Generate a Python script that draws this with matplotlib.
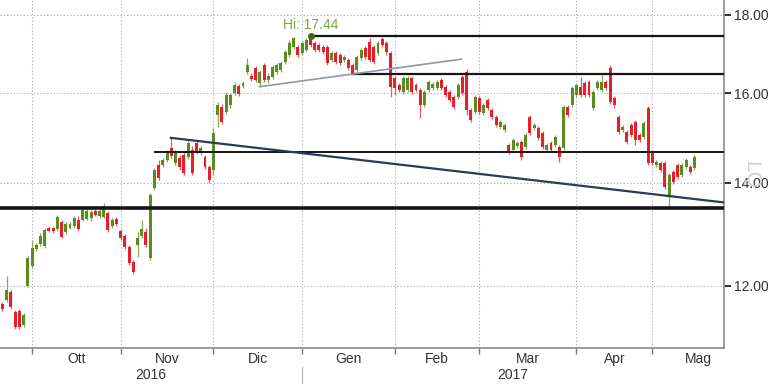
import numpy as np
import pandas as pd
import matplotlib
matplotlib.use("Agg")
import matplotlib.pyplot as plt
from matplotlib.ticker import FixedLocator, NullLocator, NullFormatter, FuncFormatter
import matplotlib.transforms as mtransforms

plt.rcParams['font.family'] = ['Liberation Sans', 'DejaVu Sans']

# trading calendar (Borsa Italiana)
holidays = ['2016-12-26', '2017-04-14', '2017-04-17', '2017-05-01']
month_names = {10: 'Ott', 11: 'Nov', 12: 'Dic', 1: 'Gen', 2: 'Feb', 3: 'Mar', 4: 'Apr', 5: 'Mag'}

# daily OHLC, 22 Sep 2016 .. 16 May 2017
opens = [
    11.68, 11.75, 11.89, 11.54, 11.55, 11.31, 11.99, 12.36, 12.68, 12.77,
    12.74, 13.08, 13.08, 13.06, 13.20, 13.00, 13.08, 13.12, 13.24, 13.24,
    13.26, 13.28, 13.42, 13.32, 13.30, 13.38, 13.12, 13.26, 13.02, 12.93,
    12.72, 12.43, 12.75, 12.93, 13.00, 12.51, 13.89, 14.38, 14.38, 14.48,
    14.74, 14.42, 14.52, 14.59, 14.55, 14.70, 14.85, 14.63, 14.55, 14.33,
    14.27, 15.50, 15.68, 15.56, 15.73, 16.01, 16.18, 16.18, 16.52, 16.42,
    16.62, 16.25, 16.69, 16.32, 16.40, 16.52, 16.57, 16.77, 16.94, 17.15,
    17.15, 16.99, 17.07, 17.38, 17.25, 17.20, 17.15, 17.15, 16.82, 16.99,
    16.94, 16.82, 16.82, 16.69, 16.57, 16.87, 17.12, 17.28, 17.15, 16.99,
    17.35, 17.25, 16.99, 16.37, 16.20, 16.03, 16.08, 16.37, 16.20, 16.08,
    15.73, 16.08, 16.13, 16.13, 16.32, 16.15, 16.03, 15.91, 15.91, 16.39,
    16.52, 15.61, 15.56, 15.89, 15.54, 15.84, 15.61, 15.45, 15.22, 15.15,
    14.81, 14.70, 14.79, 14.88, 14.77, 15.45, 15.20, 15.20, 15.08, 14.70,
    14.85, 14.81, 14.77, 14.74, 15.68, 15.73, 15.96, 16.15, 16.25, 16.27,
    15.66, 16.13, 16.08, 16.27, 16.62, 15.89, 15.45, 15.15, 15.11, 15.27,
    15.33, 15.03, 14.99, 15.66, 14.65, 14.38, 14.42, 14.42, 13.70, 14.23,
    14.38, 14.16, 14.33, 14.33, 14.31,
]
closes = [
    11.59, 11.92, 11.62, 11.28, 11.28, 11.48, 12.51, 12.70, 12.75, 12.93,
    13.04, 13.02, 13.02, 13.30, 12.91, 13.16, 13.16, 13.28, 13.06, 13.44,
    13.42, 13.40, 13.34, 13.42, 13.52, 13.04, 13.24, 13.16, 12.89, 12.72,
    12.41, 12.25, 12.89, 13.06, 12.75, 13.75, 14.27, 14.10, 14.48, 14.63,
    14.57, 14.63, 14.33, 14.21, 14.85, 14.21, 14.65, 14.74, 14.33, 14.06,
    15.08, 15.73, 15.33, 15.96, 15.96, 16.20, 15.98, 16.25, 16.69, 16.35,
    16.32, 16.52, 16.32, 16.42, 16.64, 16.69, 16.74, 17.02, 17.25, 17.38,
    16.94, 17.25, 17.33, 17.20, 17.07, 17.07, 17.02, 16.74, 16.99, 16.77,
    16.74, 16.89, 16.62, 16.49, 16.89, 17.07, 16.89, 16.82, 16.77, 17.25,
    17.20, 17.02, 16.15, 16.13, 16.08, 16.37, 16.37, 16.03, 16.08, 15.73,
    16.03, 16.27, 16.22, 16.27, 16.13, 15.96, 15.84, 15.68, 16.20, 16.01,
    15.61, 15.38, 15.91, 15.56, 15.73, 15.66, 15.45, 15.27, 15.33, 15.27,
    14.65, 14.92, 14.85, 14.55, 15.03, 15.08, 15.27, 14.97, 14.77, 14.81,
    14.70, 14.99, 14.55, 15.68, 15.50, 16.13, 16.20, 15.96, 15.96, 15.96,
    16.03, 16.27, 16.27, 16.13, 15.80, 15.73, 15.11, 15.22, 14.88, 15.03,
    14.92, 14.92, 15.31, 14.42, 14.42, 14.44, 14.27, 13.91, 14.16, 14.02,
    14.12, 14.38, 14.48, 14.23, 14.55,
]
highs = [
    11.71, 12.17, 11.92, 11.57, 11.59, 11.52, 12.55, 12.85, 12.79, 12.98,
    13.08, 13.12, 13.10, 13.34, 13.24, 13.20, 13.20, 13.32, 13.32, 13.52,
    13.50, 13.44, 13.46, 13.46, 13.58, 13.42, 13.28, 13.30, 13.06, 12.96,
    12.75, 12.47, 13.00, 13.24, 13.08, 13.79, 14.31, 14.48, 14.52, 14.70,
    14.96, 14.70, 14.59, 14.65, 14.92, 14.79, 14.90, 14.79, 14.59, 14.38,
    15.20, 15.80, 15.75, 16.03, 16.01, 16.27, 16.22, 16.30, 16.87, 16.49,
    16.67, 16.57, 16.74, 16.49, 16.69, 16.74, 16.79, 17.07, 17.33, 17.42,
    17.20, 17.30, 17.38, 17.44, 17.30, 17.25, 17.20, 17.20, 17.04, 17.04,
    16.99, 16.94, 16.87, 16.74, 16.94, 17.12, 17.17, 17.38, 17.20, 17.30,
    17.40, 17.30, 17.04, 16.42, 16.25, 16.42, 16.42, 16.42, 16.25, 16.13,
    16.08, 16.32, 16.27, 16.32, 16.37, 16.20, 16.08, 15.96, 16.25, 16.44,
    16.59, 15.66, 15.96, 15.94, 15.77, 15.89, 15.66, 15.50, 15.38, 15.31,
    14.85, 14.96, 14.90, 14.92, 15.08, 15.50, 15.31, 15.24, 15.13, 14.85,
    14.90, 15.03, 14.81, 15.73, 15.73, 16.18, 16.25, 16.39, 16.30, 16.32,
    16.08, 16.32, 16.44, 16.32, 16.69, 15.94, 15.50, 15.27, 15.15, 15.31,
    15.38, 15.08, 15.36, 15.70, 14.70, 14.48, 14.46, 14.46, 14.21, 14.27,
    14.42, 14.42, 14.52, 14.38, 14.59,
]
lows = [
    11.55, 11.71, 11.59, 11.25, 11.25, 11.28, 11.97, 12.32, 12.64, 12.74,
    12.70, 13.00, 12.98, 13.02, 12.89, 12.96, 13.06, 13.08, 13.02, 13.22,
    13.24, 13.22, 13.32, 13.28, 13.28, 13.00, 13.08, 13.12, 12.85, 12.68,
    12.38, 12.21, 12.53, 12.89, 12.72, 12.47, 13.85, 14.06, 14.33, 14.44,
    14.52, 14.38, 14.27, 14.16, 14.50, 14.16, 14.61, 14.59, 14.29, 14.00,
    14.16, 15.22, 15.29, 15.52, 15.66, 15.96, 15.94, 16.13, 16.47, 16.30,
    16.27, 16.18, 16.27, 16.25, 16.35, 16.47, 16.52, 16.72, 16.89, 17.10,
    16.89, 16.94, 17.02, 17.15, 17.02, 17.02, 16.97, 16.69, 16.77, 16.72,
    16.69, 16.77, 16.57, 16.47, 16.52, 16.82, 16.84, 16.77, 16.72, 16.94,
    17.15, 16.94, 15.92, 15.96, 16.03, 15.98, 16.03, 15.98, 16.03, 15.43,
    15.68, 16.03, 16.08, 16.08, 16.08, 15.91, 15.79, 15.63, 15.86, 15.96,
    15.48, 15.33, 15.52, 15.52, 15.50, 15.61, 15.40, 15.22, 15.17, 15.11,
    14.61, 14.65, 14.74, 14.48, 14.72, 15.03, 15.15, 14.92, 14.72, 14.65,
    14.65, 14.77, 14.44, 14.70, 15.45, 15.68, 15.91, 15.91, 15.91, 15.91,
    15.61, 16.08, 16.03, 16.08, 15.75, 15.66, 15.06, 15.11, 14.83, 14.99,
    14.81, 14.88, 14.94, 14.38, 14.38, 14.33, 14.23, 13.87, 13.50, 13.98,
    14.08, 14.12, 14.29, 14.18, 14.27,
]

hi_value = 17.44
# drawn support / resistance levels: (price, starting bar, width)
levels = [(17.44, 73, 1.6), (16.48, 82.6, 1.6), (14.65, 35.8, 1.4), (13.47, -1, 2.6)]
down_trend = ([39.9, 171.0], [14.97, 13.59])
up_trend = ([60.9, 108.7], [16.16, 16.84])

o = np.array(opens); c = np.array(closes); h = np.array(highs); l = np.array(lows)
n = len(o)
x = np.arange(n)

days = pd.bdate_range('2016-09-22', '2017-06-30')
days = days[~days.isin(pd.to_datetime(holidays))]
month_start = [i for i in range(1, len(days)) if days[i].month != days[i - 1].month]
starts = month_start[:9]          # Oct .. Jun
tick_pos = starts[:8]
label_pos = [(a + b) / 2 for a, b in zip(starts[:-1], starts[1:])]
label_txt = [month_names[days[s].month] for s in starts[:8]]
jan_idx = [s for s in starts if days[s].month == 1][0]

xlo, xhi = -0.59, 171.0

fig = plt.figure(figsize=(7.68, 3.84), dpi=100)
ax = fig.add_axes([0, 1 - 348 / 384, 724 / 768, 348 / 384])
ax.set_yscale('log')

green, red = '#5a8c20', '#e3202b'
up = c >= o
col = np.where(up, green, red)
wick = np.where(up, '#86ab55', '#ec5a60')
ax.vlines(x, l, h, colors=wick, lw=0.9, zorder=3)
ax.bar(x, np.abs(c - o), bottom=np.minimum(o, c), width=0.7, color=col, lw=0, zorder=4)

for price, start, lw in levels:
    ax.plot([max(start, xlo), xhi], [price, price], color='#151515', lw=lw, zorder=5, solid_capstyle='butt')
ax.plot(*down_trend, color='#2c3a55', lw=1.6, zorder=5)
ax.plot(*up_trend, color='#8d99a7', lw=1.2, zorder=5)

ix = int(np.argmax(h))
ax.plot(ix, hi_value, 'o', color='#3d6b1c', ms=4, zorder=6)
ax.annotate(f'Hi: {hi_value:.2f}', (ix, hi_value), xytext=(0, 3), textcoords='offset points',
            ha='center', va='bottom', color='#79a544', fontsize=10)

ax.set_xlim(xlo, xhi)
ax.set_ylim(10.93, 18.40)

ax.yaxis.tick_right()
ax.yaxis.set_major_locator(FixedLocator([12, 14, 16, 18]))
ax.yaxis.set_major_formatter(FuncFormatter(lambda v, p: f'{v:.2f}'))
ax.yaxis.set_minor_locator(NullLocator())
ax.yaxis.set_minor_formatter(NullFormatter())
ax.tick_params(axis='y', direction='out', length=5, width=1.4, color='#333333',
               labelsize=10, labelcolor='#333333', pad=2)

ax.xaxis.set_major_locator(FixedLocator(tick_pos))
ax.xaxis.set_major_formatter(NullFormatter())
ax.xaxis.set_minor_locator(FixedLocator(label_pos))
ax.xaxis.set_minor_formatter(FuncFormatter(lambda v, p: label_txt[p] if p is not None and p < len(label_txt) else ''))
ax.tick_params(axis='x', which='major', direction='out', length=4, width=1, color='#777777')
ax.tick_params(axis='x', which='minor', length=0, labelsize=10, labelcolor='#333333', pad=3)

ax.grid(True, which='major', color='#a8a8a8', linestyle=(0, (1, 2)), lw=0.8)
ax.set_axisbelow(True)

for side in ['top', 'left']:
    ax.spines[side].set_visible(False)
ax.spines['right'].set_color('#8a8a8a')
ax.spines['bottom'].set_color('#8a8a8a')
ax.spines['right'].set_linewidth(1.2)
ax.spines['bottom'].set_linewidth(1.2)

# year row
tr = mtransforms.blended_transform_factory(ax.transData, ax.transAxes)
ax.text((xlo + jan_idx) / 2, -0.078, '2016', transform=tr, ha='center', va='center',
        fontsize=10, color='#333333')
ax.text((jan_idx + xhi) / 2, -0.078, '2017', transform=tr, ha='center', va='center',
        fontsize=10, color='#333333')
ax.plot([jan_idx, jan_idx], [-0.055, -0.11], transform=tr, color='#aaaaaa', lw=0.8, clip_on=False)

# faint logo mark at the right
fig.text(751 / 768, 1 - 175 / 384, 'LQ', rotation=270, ha='center', va='center',
         color='#cfcfcf', fontsize=15)

fig.savefig('out.png', dpi=100)
